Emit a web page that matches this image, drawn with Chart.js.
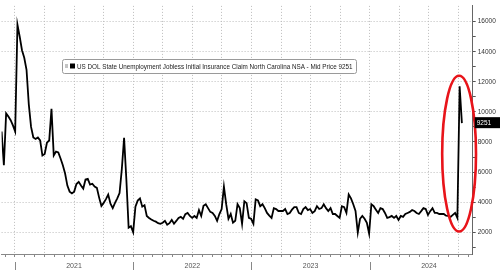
<!DOCTYPE html>
<html><head><meta charset="utf-8">
<script src="https://cdn.jsdelivr.net/npm/chart.js@4.4.1/dist/chart.umd.min.js"></script>
<style>html,body{margin:0;padding:0;background:#fff;overflow:hidden}canvas{display:block}</style>
</head><body>
<canvas id="c" width="500" height="270"></canvas>
<script>
const seriesName = 'US DOL State Unemployment Jobless Initial Insurance Claim North Carolina NSA - Mid Price';
const firstWeek = '2020-11-21';
const claims = [
 8700,6450,9900,9700,9450,9100,8700,15800,15000,14100,13600,12800,10500,9000,8300,8200,8300,8100,7100,7200,
 7950,8100,10200,7100,7360,7300,6900,6450,5900,5100,4700,4580,4700,5200,5350,5100,4900,5500,5550,5160,
 5220,5030,4950,4300,3750,3950,4200,4500,3900,3600,3950,4250,4600,6200,8270,5500,2300,2400,2000,3700,
 4100,4250,3700,3800,3080,2950,2850,2760,2700,2600,2560,2630,2760,2500,2600,2820,2560,2750,2950,3020,
 2890,3200,3280,3080,2950,3080,2950,3470,3080,3750,3860,3600,3350,3280,3080,2760,3210,3540,5030,3860,
 2890,3210,2630,2760,3860,3600,2560,4060,3930,2950,2890,2560,4190,4120,3730,3860,3600,3280,3100,2950,
 3600,3540,3410,3410,3410,3540,3210,3280,3500,3670,3670,3280,3210,3540,3670,3470,3540,3280,3400,3730,
 3540,3600,3860,3600,3410,3600,3210,3210,3080,2950,3730,3670,3280,4510,4250,3860,3410,1980,2890,3080,
 2890,2630,1910,3860,3730,3500,3280,3600,3540,3280,2950,3000,3080,2950,3080,2820,3080,3020,3210,3280,
 3350,3470,3410,3280,3210,3400,3600,3540,3150,3400,3600,3280,3280,3210,3210,3210,3100,3080,3020,3150,
 3280,2950,11700,9251
];
const yearLabels = ['2021','2022','2023','2024'];
const yTicks = [1000,2000,3000,4000,5000,6000,7000,8000,9000,10000,11000,12000,13000,14000,15000,16000];
const yLabelled = [2000,4000,6000,8000,10000,12000,14000,16000];
const lastValueLabel = '9251';

const X_MIN = 2020.888, X_MAX = 2024.870, Y_MIN = 550, Y_MAX = 17050;
const FONT = "'Liberation Sans Narrow', 'Arial Narrow', 'Liberation Sans', Arial, sans-serif";

function yearFrac(d) {
  const y = d.getUTCFullYear();
  const s = Date.UTC(y, 0, 1), e = Date.UTC(y + 1, 0, 1);
  return y + (d.getTime() - s) / (e - s);
}
const start = new Date(firstWeek + 'T00:00:00Z');
const weekX = claims.map((_, i) => yearFrac(new Date(start.getTime() + i * 7 * 86400000)));
const points = claims.map((v, i) => ({x: weekX[i], y: v}));

const overlay = {
  id: 'overlay',
  afterDraw(chart) {
    const ctx = chart.ctx, xs = chart.scales.x, ys = chart.scales.y, ca = chart.chartArea;
    ctx.save();
    // year separators
    ctx.strokeStyle = '#888'; ctx.lineWidth = 1;
    yearLabels.forEach(l => {
      const px = Math.round(xs.getPixelForValue(+l)) + 0.5;
      ctx.beginPath(); ctx.moveTo(px, ca.bottom + 8); ctx.lineTo(px, 270); ctx.stroke();
    });
    // red ellipse
    const cx = xs.getPixelForValue(2024.755);
    const rx = xs.getPixelForValue(2024.755 + 0.143) - cx;
    const yt = ys.getPixelForValue(12400), yb = ys.getPixelForValue(2050);
    ctx.strokeStyle = '#e8141a'; ctx.lineWidth = 2.6;
    ctx.beginPath(); ctx.ellipse(cx, (yt + yb) / 2, rx, (yb - yt) / 2, 0, 0, Math.PI * 2); ctx.stroke();
    // last value label
    const lv = claims[claims.length - 1];
    const ly = ys.getPixelForValue(lv);
    ctx.fillStyle = '#000';
    ctx.fillRect(ca.right + 2, ly - 6, 500 - ca.right - 2, 11);
    ctx.fillStyle = '#fff'; ctx.font = '6.5px ' + FONT; ctx.textBaseline = 'middle'; ctx.textAlign = 'left';
    ctx.fillText(lastValueLabel, ca.right + 4, ly);
    // legend box
    const text = seriesName + ' ' + lastValueLabel;
    const bx = 62, by = 59, bw = 294, bh = 14;
    ctx.fillStyle = '#fff'; ctx.strokeStyle = '#9a9a9a'; ctx.lineWidth = 1;
    ctx.beginPath(); ctx.roundRect(bx + 0.5, by + 0.5, bw, bh, 2); ctx.fill(); ctx.stroke();
    ctx.fillStyle = '#c4c4c4'; ctx.fillRect(65, 64, 3, 4);
    ctx.fillStyle = '#000'; ctx.fillRect(70, 63.5, 5, 5);
    let fs = 6.5;
    ctx.font = fs + 'px ' + FONT;
    const w = ctx.measureText(text).width;
    fs = Math.min(8, fs * 276 / w);
    ctx.font = fs + 'px ' + FONT;
    ctx.fillStyle = '#222'; ctx.textBaseline = 'middle';
    ctx.fillText(text, 77, by + bh / 2 + 1);
    ctx.restore();
  }
};

Chart.defaults.font.family = FONT;
new Chart(document.getElementById('c'), {
  type: 'line',
  data: { datasets: [{ data: points, borderColor: '#000', borderWidth: 1.8, pointRadius: 0, tension: 0, fill: false }] },
  options: {
    responsive: false, animation: false,
    layout: { padding: 0 },
    plugins: { legend: { display: false }, tooltip: { enabled: false } },
    scales: {
      x: {
        type: 'linear', min: X_MIN, max: X_MAX,
        afterBuildTicks: (s) => {
          const t = [];
          for (let y = 2020; y <= 2024; y++) for (let m = 0; m < 12; m++) {
            const v = y + m / 12;
            if (v >= X_MIN && v <= X_MAX) t.push({value: v});
          }
          s.ticks = t;
        },
        afterFit: (s) => { s.height = 16; },
        ticks: {
          autoSkip: false, maxRotation: 0, padding: 5, color: '#555', font: { size: 7 },
          callback: (v) => {
            const y = Math.floor(v + 1e-9);
            return Math.abs(v - y - 0.5) < 1e-6 && yearLabels.includes(String(y)) ? String(y) : '';
          }
        },
        grid: {
          color: (c) => { const m = Math.round(((c.tick ? c.tick.value : 0) % 1) * 12); return m % 3 === 0 ? '#bdbdbd' : 'rgba(0,0,0,0)'; },
          tickColor: '#888', tickLength: 3, lineWidth: 1
        },
        border: { color: '#888', width: 1, dash: [1, 2] }
      },
      y: {
        position: 'right', min: Y_MIN, max: Y_MAX,
        afterBuildTicks: (s) => { s.ticks = yTicks.map(v => ({value: v})); },
        afterFit: (s) => { s.width = 27.3; },
        ticks: {
          padding: 2, color: '#333', font: { size: 6.5 },
          callback: (v) => yLabelled.includes(v) ? String(v) : ''
        },
        grid: {
          color: (c) => c.tick && yLabelled.includes(c.tick.value) ? '#bdbdbd' : 'rgba(0,0,0,0)',
          tickColor: '#555', tickLength: 3, lineWidth: 1
        },
        border: { color: '#666', width: 1, dash: [1, 2] }
      }
    }
  },
  plugins: [overlay]
});
</script>
</body></html>
